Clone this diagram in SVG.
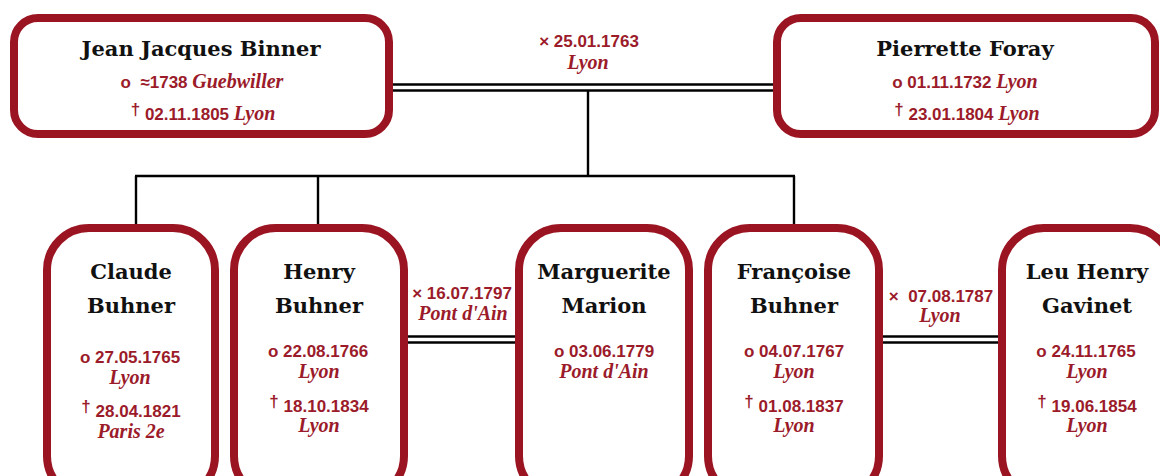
<svg xmlns="http://www.w3.org/2000/svg" width="1160" height="476" viewBox="0 0 1160 476">
<style>
.box{fill:#fff;stroke:#9b1422;stroke-width:8}
.ln{stroke:#000;stroke-width:2.4;fill:none}
.nm{font-family:"DejaVu Serif",serif;font-weight:bold;font-size:21px;fill:#111;text-anchor:middle}
.dt{font-family:"Liberation Sans",Arial,sans-serif;font-weight:bold;font-size:17px;fill:#9b1b2a;text-anchor:middle}
.pl{font-family:"Liberation Serif",serif;font-style:italic;font-weight:bold;font-size:20px;fill:#9b1b2a}
.dg{font-size:17px}
</style>
<rect width="1160" height="476" fill="#fff"/>
<g id="connectors">
<line class="ln" x1="392" y1="84.5" x2="775" y2="84.5"/>
<line class="ln" x1="392" y1="90.5" x2="775" y2="90.5"/>
<line class="ln" x1="588" y1="90.5" x2="588" y2="176"/>
<line class="ln" x1="135" y1="176" x2="795" y2="176"/>
<line class="ln" x1="136" y1="176" x2="136" y2="226"/>
<line class="ln" x1="318" y1="176" x2="318" y2="226"/>
<line class="ln" x1="794" y1="176" x2="794" y2="226"/>
<line class="ln" x1="406" y1="336.5" x2="517" y2="336.5"/>
<line class="ln" x1="406" y1="342.5" x2="517" y2="342.5"/>
<line class="ln" x1="881" y1="336.5" x2="1000" y2="336.5"/>
<line class="ln" x1="881" y1="342.5" x2="1000" y2="342.5"/>
</g>
<g id="m1">
<text class="dt" x="589" y="47">× 25.01.1763</text>
<text class="dt" x="588" y="69"><tspan class="pl">Lyon</tspan></text>
</g>
<g id="m2">
<text class="dt" x="462" y="299">× 16.07.1797</text>
<text class="dt" x="463" y="320"><tspan class="pl">Pont d'Ain</tspan></text>
</g>
<g id="m3">
<text class="dt" x="941" y="302" xml:space="preserve">×  07.08.1787</text>
<text class="dt" x="940" y="322"><tspan class="pl">Lyon</tspan></text>
</g>
<g id="jean">
<rect class="box" x="14" y="18" width="375" height="116" rx="24"/>
<text class="nm" x="201" y="56">Jean Jacques Binner</text>
<text class="dt" x="202" y="88" xml:space="preserve">o  ≈1738 <tspan class="pl">Guebwiller</tspan></text>
<text class="dt" x="203" y="120"><tspan class="dg" dy="-5">†</tspan><tspan dy="5"> 02.11.1805 </tspan><tspan class="pl">Lyon</tspan></text>
</g>
<g id="pierrette">
<rect class="box" x="777" y="18" width="378" height="116" rx="24"/>
<text class="nm" x="965" y="56">Pierrette Foray</text>
<text class="dt" x="965" y="88">o 01.11.1732 <tspan class="pl">Lyon</tspan></text>
<text class="dt" x="967" y="120"><tspan class="dg" dy="-5">†</tspan><tspan dy="5"> 23.01.1804 </tspan><tspan class="pl">Lyon</tspan></text>
</g>
<g id="claude">
<rect class="box" x="47" y="228" width="168" height="270" rx="42"/>
<text class="nm" x="131" y="279">Claude</text>
<text class="nm" x="131" y="313">Buhner</text>
<text class="dt" x="130" y="363">o 27.05.1765</text>
<text class="dt" x="130" y="384"><tspan class="pl">Lyon</tspan></text>
<text class="dt" x="131" y="417"><tspan class="dg" dy="-5">†</tspan><tspan dy="5"> 28.04.1821</tspan></text>
<text class="dt" x="131" y="438"><tspan class="pl">Paris 2e</tspan></text>
</g>
<g id="henry">
<rect class="box" x="234" y="228" width="170" height="270" rx="42"/>
<text class="nm" x="319" y="279">Henry</text>
<text class="nm" x="319" y="313">Buhner</text>
<text class="dt" x="318" y="357">o 22.08.1766</text>
<text class="dt" x="319" y="378"><tspan class="pl">Lyon</tspan></text>
<text class="dt" x="319" y="412"><tspan class="dg" dy="-5">†</tspan><tspan dy="5"> 18.10.1834</tspan></text>
<text class="dt" x="319" y="432"><tspan class="pl">Lyon</tspan></text>
</g>
<g id="marguerite">
<rect class="box" x="519" y="228" width="170" height="270" rx="42"/>
<text class="nm" x="604" y="279">Marguerite</text>
<text class="nm" x="604" y="313">Marion</text>
<text class="dt" x="604" y="357">o 03.06.1779</text>
<text class="dt" x="604" y="378"><tspan class="pl">Pont d'Ain</tspan></text>
</g>
<g id="francoise">
<rect class="box" x="708" y="228" width="171" height="270" rx="42"/>
<text class="nm" x="794" y="279">Françoise</text>
<text class="nm" x="794" y="313">Buhner</text>
<text class="dt" x="794" y="357">o 04.07.1767</text>
<text class="dt" x="794" y="378"><tspan class="pl">Lyon</tspan></text>
<text class="dt" x="794" y="412"><tspan class="dg" dy="-5">†</tspan><tspan dy="5"> 01.08.1837</tspan></text>
<text class="dt" x="794" y="432"><tspan class="pl">Lyon</tspan></text>
</g>
<g id="leu">
<rect class="box" x="1002" y="228" width="170" height="270" rx="42"/>
<text class="nm" x="1087" y="279">Leu Henry</text>
<text class="nm" x="1087" y="313">Gavinet</text>
<text class="dt" x="1086" y="357">o 24.11.1765</text>
<text class="dt" x="1087" y="378"><tspan class="pl">Lyon</tspan></text>
<text class="dt" x="1087" y="412"><tspan class="dg" dy="-5">†</tspan><tspan dy="5"> 19.06.1854</tspan></text>
<text class="dt" x="1087" y="432"><tspan class="pl">Lyon</tspan></text>
</g>
</svg>
